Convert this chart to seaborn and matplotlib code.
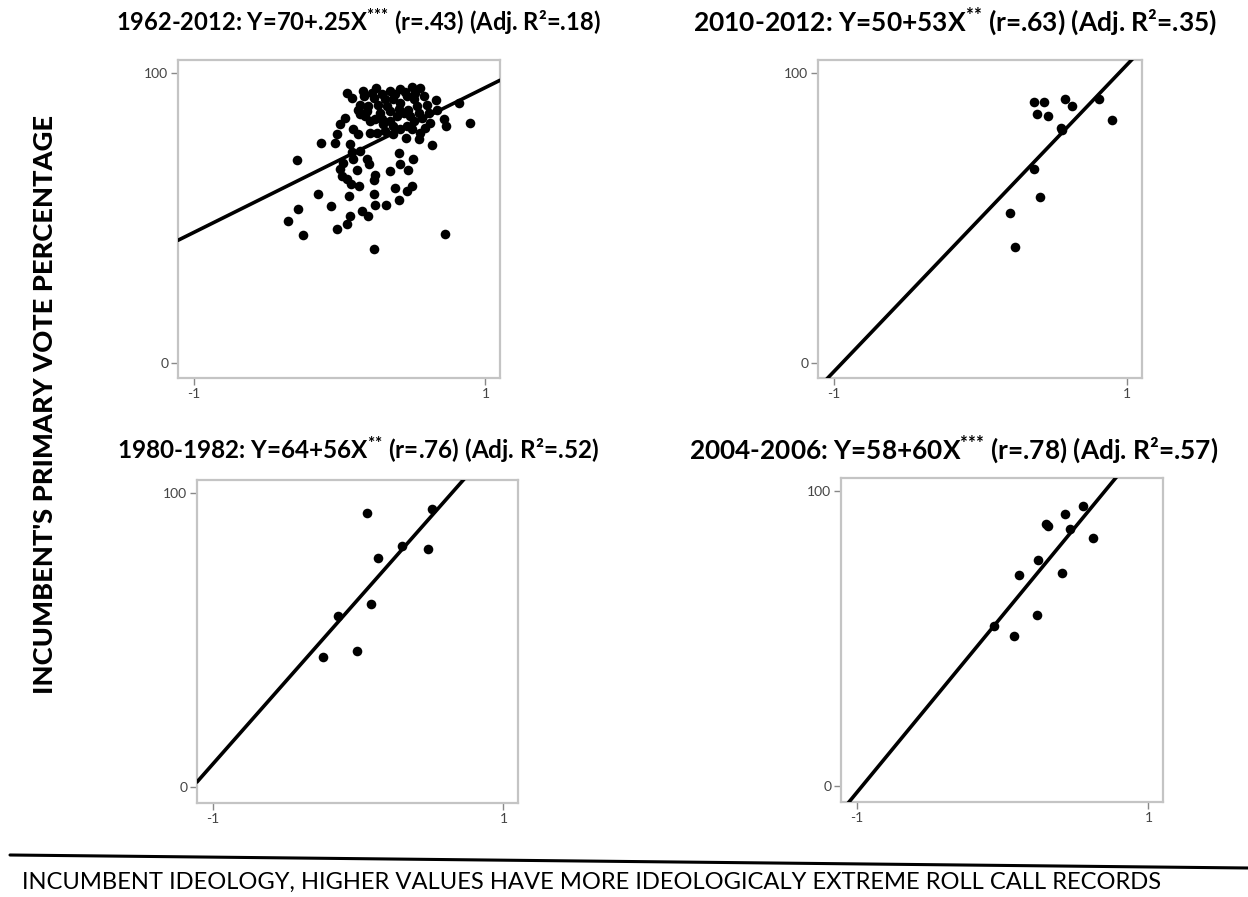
import numpy as np
import pandas as pd
import seaborn as sns
import matplotlib.pyplot as plt
from matplotlib.lines import Line2D

# panel titles and fitted lines (intercept, slope per unit of ideology)
titles = ["1962-2012: Y=70+.25X$^{{*}{*}{*}}$ (r=.43) (Adj. R²=.18)",
          "2010-2012: Y=50+53X$^{{*}{*}}$ (r=.63) (Adj. R²=.35)",
          "1980-1982: Y=64+56X$^{{*}{*}}$ (r=.76) (Adj. R²=.52)",
          "2004-2006: Y=58+60X$^{{*}{*}{*}}$ (r=.78) (Adj. R²=.57)"]
intercepts = [70, 50, 64, 58]
slopes = [25, 53, 56, 60]

# 1962-2012
x1 = [0.053, 0.083, 0.250, 0.167, 0.140, 0.122, 0.140, 0.197, 0.232, 0.289,
      0.346, 0.415, 0.495, 0.553, 0.369, 0.323, 0.278, 0.243, 0.415, 0.461,
      0.507, 0.530, 0.472, 0.438, 0.392, 0.346, 0.300, 0.369, 0.576, 0.599,
      0.610, 0.564, 0.507, 0.461, 0.663, 0.713, 0.729, 0.817, 0.897, 0.633,
      0.553, 0.541, 0.456, 0.255, 0.209, 0.128, 0.094, 0.037, 0.002, -0.021,
      -0.032, 0.071, 0.083, -0.128, -0.296, 0.209, 0.174, 0.312, 0.415, 0.495,
      0.622, 0.667, 0.021, 0.002, 0.014, 0.117, 0.186, 0.204, 0.243, 0.232,
      0.346, 0.411, 0.404, 0.500, 0.466, 0.076, 0.135, 0.067, 0.232, 0.239,
      0.319, 0.404, 0.381, 0.461, 0.495, 0.151, 0.197, 0.071, 0.053, -0.021,
      -0.060, -0.147, -0.284, -0.358, -0.255, 0.232, 0.725, 0.048, 0.094, 0.140,
      0.163, 0.220, 0.312, 0.381, 0.450, 0.518, 0.266, 0.346, 0.404, 0.484,
      0.541, 0.186, 0.289, 0.369, 0.587]
y1 = [93.1, 91.4, 94.9, 92.0, 89.1, 87.4, 85.7, 88.6, 91.4, 92.6,
      93.7, 94.5, 95.2, 94.9, 90.9, 88.6, 86.3, 84.0, 89.7, 92.0,
      90.9, 88.6, 87.4, 86.3, 85.1, 83.4, 82.3, 81.7, 92.0, 89.1,
      86.3, 84.6, 83.4, 81.7, 90.6, 84.0, 81.7, 89.7, 82.9, 75.1,
      79.4, 77.1, 77.4, 79.2, 79.4, 78.9, 80.6, 84.6, 82.3, 78.9,
      76.0, 75.4, 72.6, 75.7, 69.9, 83.4, 85.1, 80.0, 80.6, 80.6,
      82.9, 87.4, 69.1, 66.9, 64.6, 66.6, 70.3, 68.6, 64.8, 62.9,
      66.3, 68.6, 72.3, 70.3, 66.6, 61.7, 60.9, 57.5, 58.3, 54.5,
      54.5, 56.0, 60.2, 59.1, 60.9, 52.2, 50.6, 50.6, 48.0, 46.3,
      54.1, 58.2, 53.1, 48.9, 44.2, 39.1, 44.5, 63.4, 70.3, 73.1,
      93.7, 93.1, 90.9, 92.6, 93.4, 93.1, 89.1, 86.9, 87.7, 85.1,
      86.3, 86.9, 84.0, 78.9, 81.1]

# 2010-2012
x2 = [0.364, 0.432, 0.386, 0.461, 0.573, 0.620, 0.807, 0.893, 0.557, 0.545,
      0.364, 0.405, 0.198, 0.232]
y2 = [89.9, 89.9, 85.9, 85.1, 91.0, 88.5, 91.0, 83.7, 80.5, 81.0,
      66.7, 57.1, 51.5, 39.9]

# 1980-1982
x3 = [0.057, 0.511, 0.300, 0.477, 0.136, 0.091, -0.136, -0.011, -0.245]
y3 = [93.4, 94.8, 82.1, 81.0, 77.9, 62.5, 58.3, 46.4, 44.2]

# 2004-2006
x4 = [0.550, 0.427, 0.300, 0.314, 0.459, 0.618, 0.239, 0.109, 0.409, 0.232,
      -0.057, 0.075]
y4 = [95.1, 92.3, 88.9, 88.1, 87.2, 84.1, 76.7, 71.6, 72.2, 58.2,
      54.3, 50.9]

xs = [x1, x2, x3, x4]
ys = [y1, y2, y3, y4]

sns.set_style("white")
plt.rcParams['font.family'] = ['Lato', 'DejaVu Sans']
plt.rcParams['text.color'] = 'black'
plt.rcParams['mathtext.fontset'] = 'custom'
plt.rcParams['mathtext.rm'] = 'Lato:bold'
plt.rcParams['mathtext.default'] = 'rm'

W, H = 1248, 897
fig = plt.figure(figsize=(W / 100, H / 100), dpi=100)

# axes boxes in pixels: left, top, right, bottom
boxes = [(178, 60, 500, 378), (818, 60, 1142, 378),
         (197, 480, 518, 803), (841, 478, 1163, 802)]
title_pos = [(358, 22), (955, 22), (358, 450), (954, 450)]
title_size = [17.1, 19.0, 17.5, 18.9]
xlim = (-1.11, 1.10)
ylim = (-5.3, 104.5)

for i in range(4):
    l, t, r, b = boxes[i]
    ax = fig.add_axes([l / W, 1 - b / H, (r - l) / W, (b - t) / H])
    df = pd.DataFrame({"x": xs[i], "y": ys[i]})
    sns.scatterplot(data=df, x="x", y="y", color="black", s=48,
                    edgecolor="black", linewidth=0, ax=ax, zorder=3)
    line_x = np.linspace(xlim[0], xlim[1], 50)
    fit = pd.DataFrame({"x": line_x, "y": intercepts[i] + slopes[i] * line_x})
    sns.lineplot(data=fit, x="x", y="y", color="black", lw=2.6, ax=ax, zorder=4)
    ax.set_xlim(*xlim)
    ax.set_ylim(*ylim)
    ax.set_xticks([-1, 1])
    ax.set_xticklabels(["-1", "1"])
    ax.set_yticks([0, 100])
    ax.set_yticklabels(["0", "100"])
    ax.tick_params(direction="out", length=5, width=1, color="#888888",
                   labelcolor="#444444", labelsize=10, pad=2,
                   bottom=True, left=True)
    for sp in ax.spines.values():
        sp.set_color("#c4c4c4")
        sp.set_linewidth(1.6)
    ax.set_xlabel("")
    ax.set_ylabel("")
    fig.text(title_pos[i][0] / W, 1 - title_pos[i][1] / H, titles[i],
             ha="center", va="center", fontsize=title_size[i], fontweight="bold")

fig.text(45 / W, 1 - 405 / H, "INCUMBENT'S PRIMARY VOTE PERCENTAGE",
         rotation=90, ha="center", va="center", fontsize=19.6, fontweight="black")
fig.text(22 / W, 1 - 882 / H,
         "INCUMBENT IDEOLOGY, HIGHER VALUES HAVE MORE IDEOLOGICALY EXTREME ROLL CALL RECORDS",
         ha="left", va="center", fontsize=17.1)
fig.add_artist(Line2D([10 / W, 1.0], [1 - 855 / H, 1 - 868 / H],
                      color="black", lw=2.2, transform=fig.transFigure))

fig.savefig("out.png", dpi=100)
